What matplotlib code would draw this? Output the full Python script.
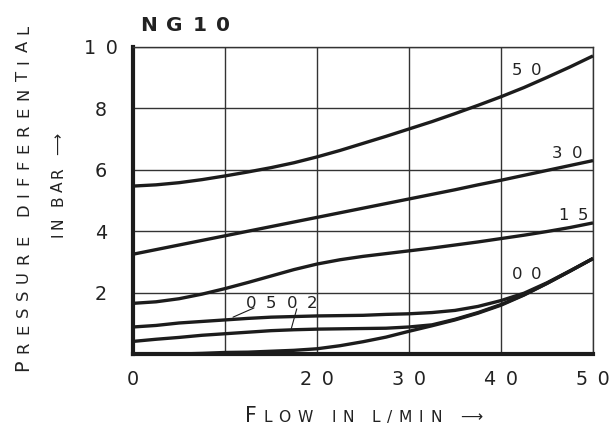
import matplotlib
matplotlib.use("Agg")
import matplotlib.pyplot as plt
from matplotlib.font_manager import FontProperties
from matplotlib.transforms import IdentityTransform

# ---- data (flow step 2.5 l/min) ----
flow = [0, 2.5, 5, 7.5, 10, 12.5, 15, 17.5, 20, 22.5, 25,
        27.5, 30, 32.5, 35, 37.5, 40, 42.5, 45, 47.5, 50]
p50 = [5.47, 5.51, 5.58, 5.68, 5.80, 5.93, 6.07, 6.23, 6.42, 6.63, 6.86,
       7.09, 7.33, 7.57, 7.83, 8.10, 8.38, 8.68, 9.01, 9.35, 9.71]
p30 = [3.25, 3.40, 3.55, 3.70, 3.85, 4.00, 4.15, 4.30, 4.45, 4.60, 4.75,
       4.90, 5.05, 5.20, 5.35, 5.51, 5.66, 5.82, 5.98, 6.14, 6.30]
p15 = [1.65, 1.70, 1.80, 1.95, 2.13, 2.33, 2.54, 2.75, 2.93, 3.07, 3.18,
       3.27, 3.36, 3.45, 3.55, 3.65, 3.76, 3.87, 3.99, 4.12, 4.27]
p05 = [0.88, 0.93, 1.01, 1.06, 1.11, 1.16, 1.20, 1.22, 1.24, 1.25, 1.26,
       1.29, 1.31, 1.35, 1.42, 1.55, 1.74, 1.98, 2.32, 2.71, 3.11]
p02 = [0.41, 0.48, 0.54, 0.61, 0.66, 0.71, 0.76, 0.79, 0.81, 0.82, 0.83,
       0.84, 0.88, 0.95, 1.13, 1.35, 1.61, 1.93, 2.30, 2.70, 3.11]
p00 = [0.00, 0.00, 0.00, 0.02, 0.05, 0.06, 0.09, 0.12, 0.17, 0.27, 0.40,
       0.55, 0.74, 0.92, 1.11, 1.33, 1.59, 1.92, 2.30, 2.70, 3.11]
series = [p50, p30, p15, p05, p02, p00]

curve_labels = ["50", "30", "15", "00", "05", "02"]
label_x = [42.8, 47.2, 47.8, 42.8, 13.9, 18.4]
label_base_y = [9.09, 6.38, 4.36, 2.44, 1.50, 1.50]

xticks = [0, 10, 20, 30, 40, 50]
xticklabels = ["0", "", "2\u20020", "3\u20020", "4\u20020", "5\u20020"]
yticks = [0, 2, 4, 6, 8, 10]
yticklabels = ["", "2", "4", "6", "8", "1\u20020"]

INK = "#1c1c1c"
TXT = "#222222"
FAM = "DejaVu Sans"

W, H = 611, 425
fig = plt.figure(figsize=(W / 100, H / 100), dpi=100)
ax = fig.add_axes([133 / W, (H - 354) / H, (593 - 133) / W, (354 - 47) / H])
ax.set_xlim(0, 50)
ax.set_ylim(0, 10)

for s in series:
    ax.plot(flow, s, color=INK, lw=2.4, solid_joinstyle="round",
            solid_capstyle="butt", zorder=3, clip_on=False)

ax.set_xticks(xticks)
ax.set_xticklabels(xticklabels, fontsize=13.8, color=TXT, family=FAM)
ax.set_yticks(yticks)
ax.set_yticklabels(yticklabels, fontsize=13.8, color=TXT, family=FAM)
ax.tick_params(axis="both", length=0)
ax.tick_params(axis="x", pad=11.5)
ax.tick_params(axis="y", pad=23)
for lab in ax.get_yticklabels():
    lab.set_horizontalalignment("center")
ax.grid(True, color="#333333", lw=1.0, zorder=1)
for side in ["left", "bottom"]:
    ax.spines[side].set_linewidth(3.0)
    ax.spines[side].set_color(INK)
for side in ["top", "right"]:
    ax.spines[side].set_linewidth(1.0)
    ax.spines[side].set_color("#333333")
ax.set_axisbelow(True)

# leader lines for 05 and 02
ax.annotate("", xy=(10.87, 1.20), xytext=(13.15, 1.50),
            arrowprops=dict(arrowstyle="-", color=INK, lw=0.8, shrinkA=0, shrinkB=0))
ax.annotate("", xy=(17.2, 0.82), xytext=(17.8, 1.47),
            arrowprops=dict(arrowstyle="-", color=INK, lw=0.8, shrinkA=0, shrinkB=0))

renderer = fig.canvas.get_renderer()


def tracked(cx, base, parts, total, rotation=0, weight="normal", color=TXT):
    """Letter-spaced text in display pixels (origin bottom-left)."""
    chars = [(c, sz) for t, sz in parts for c in t]
    ws = []
    for c, sz in chars:
        if c == " ":
            ws.append(0.318 * sz * 100 / 72)
        else:
            fp = FontProperties(family=FAM, size=sz, weight=weight)
            w, _, _ = renderer.get_text_width_height_descent(c, fp, ismath=False)
            ws.append(w)
    n = len(chars)
    tr = (total - sum(ws)) / (n - 1) if n > 1 else 0
    pos = -total / 2
    for (c, sz), w in zip(chars, ws):
        if c != " ":
            if rotation == 0:
                x, y = cx + pos, base
            else:
                x, y = base, cx + pos
            fig.text(x, y, c, transform=IdentityTransform(), fontsize=sz,
                     ha="left", va="baseline", rotation=rotation,
                     rotation_mode="anchor", family=FAM, weight=weight,
                     color=color)
        pos += w + tr


# curve labels
for lab, lx, ly in zip(curve_labels, label_x, label_base_y):
    dx, dy = ax.transData.transform((lx, ly))
    tracked(dx, dy, [(lab, 11.85)], 30)

# title
tracked(185, H - 31, [("NG10", 14.5)], 90, weight="bold")
# x label
tracked(363.5, H - 422, [("F", 14.8), ("LOW IN L/MIN \u27F6", 11.2)], 237)
# y labels
tracked(H - 198, 28, [("P", 13.8), ("RESSURE DIFFERENTIAL", 11.8)], 346, rotation=90)
tracked(H - 185, 63, [("IN BAR \u27F6", 11.2)], 104, rotation=90)

fig.savefig("out.png", dpi=100)
